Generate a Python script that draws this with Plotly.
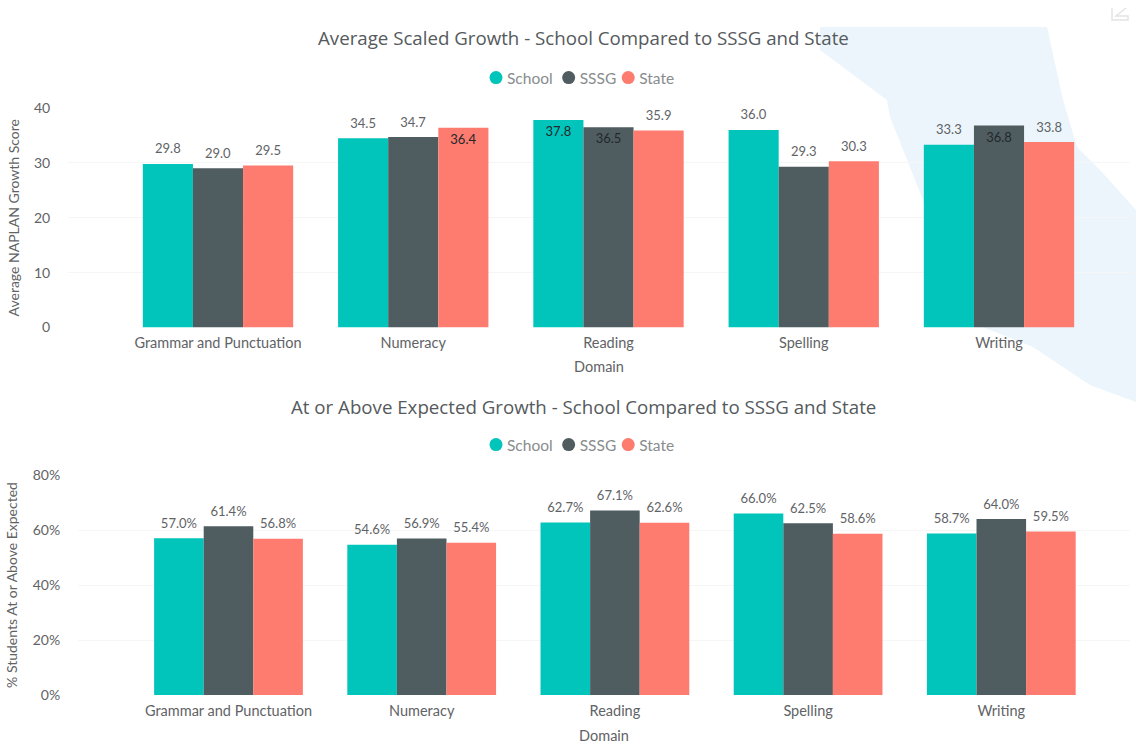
import plotly.graph_objects as go

W, H = 1136, 745
categories = ["Grammar and Punctuation", "Numeracy", "Reading", "Spelling", "Writing"]
series = ["School", "SSSG", "State"]
colors = ["#01C5BA", "#4F5D61", "#FD7B6F"]

score_school = [29.8, 34.5, 37.8, 36.0, 33.3]
score_sssg = [29.0, 34.7, 36.5, 29.3, 36.8]
score_state = [29.5, 36.4, 35.9, 30.3, 33.8]
pct_school = [57.0, 54.6, 62.7, 66.0, 58.7]
pct_sssg = [61.4, 56.9, 67.1, 62.5, 64.0]
pct_state = [56.8, 55.4, 62.6, 58.6, 59.5]

# labels drawn inside the bar end in the top chart: (series, category index)
score_inside = {("School", 2), ("SSSG", 2), ("SSSG", 4), ("State", 1)}

LABEL = "Lato"
TITLE = "Open Sans"
GREY = "#5f6366"
DARK = "#23282b"

def px(x):
    return x / W

def py(y):
    return 1 - y / H

def above(s):
    # small blank line under the label lifts it clear of the bar
    return f"<span style='font-size:13px'>{s}</span><br> "

def below(s):
    # small blank line over the label drops it further inside the bar
    return f" <br><span style='font-size:13px'>{s}</span>"

fig = go.Figure()
for name, color, vals in zip(series, colors, [score_school, score_sssg, score_state]):
    inside = [(name, i) in score_inside for i in range(len(vals))]
    fig.add_trace(go.Bar(
        x=categories, y=vals, name=name, marker=dict(color=color, line_width=0),
        xaxis="x", yaxis="y", showlegend=False, cliponaxis=False,
        text=[below(f"{v:.1f}") if s else above(f"{v:.1f}") for v, s in zip(vals, inside)],
        textposition=["inside" if s else "outside" for s in inside],
        insidetextanchor="end", textangle=0, constraintext="none",
        textfont=dict(family=LABEL, size=5, color=[DARK if s else GREY for s in inside]),
        hoverinfo="x+y",
    ))
for name, color, vals in zip(series, colors, [pct_school, pct_sssg, pct_state]):
    fig.add_trace(go.Bar(
        x=categories, y=vals, name=name, marker=dict(color=color, line_width=0),
        xaxis="x2", yaxis="y2", showlegend=False, cliponaxis=False,
        text=[above(f"{v:.1f}%") for v in vals],
        textposition="outside", textangle=0, constraintext="none",
        textfont=dict(family=LABEL, size=5, color=GREY),
        hoverinfo="x+y",
    ))
# legend keys are round in the reference, so each legend has marker-only entries
for legend, xa, ya in [("legend", "x", "y"), ("legend2", "x2", "y2")]:
    for name, color in zip(series, colors):
        fig.add_trace(go.Scatter(
            x=[None], y=[None], mode="markers", name=name, legend=legend,
            marker=dict(color=color, size=13, symbol="circle"), xaxis=xa, yaxis=ya,
        ))

def xaxis(center0, px_l, px_r, step, anchor, ticklen, standoff):
    return dict(
        domain=[px(px_l), px(px_r)], anchor=anchor, type="category",
        range=[(px_l - center0) / step, (px_r - center0) / step],
        categoryorder="array", categoryarray=categories,
        showgrid=False, zeroline=False, showline=False,
        ticks="outside", ticklen=ticklen, tickcolor="rgba(0,0,0,0)",
        tickfont=dict(family=LABEL, size=14.5, color=GREY),
        title=dict(text="Domain", font=dict(family=LABEL, size=14.5, color=GREY), standoff=standoff),
    )

def yaxis(top, bottom, rng, dtick, title, suffix, anchor, ticklen):
    return dict(
        domain=[py(bottom), py(top)], anchor=anchor, range=rng, dtick=dtick, ticksuffix=suffix,
        showgrid=True, gridcolor="#f6f6f6", gridwidth=1, zeroline=False, showline=False,
        ticks="outside", ticklen=ticklen, tickcolor="rgba(0,0,0,0)",
        tickfont=dict(family=LABEL, size=14, color=GREY),
        title=dict(text=title, font=dict(family=LABEL, size=14, color=GREY), standoff=11),
    )

legend_common = dict(
    orientation="h", xanchor="left", yanchor="middle", itemclick=False, itemdoubleclick=False,
    font=dict(family=LABEL, size=15.5, color="#888c8e"), bgcolor="rgba(0,0,0,0)",
    tracegroupgap=0, itemwidth=30,
)

blue_region = [(820, 27), (1047, 27), (1063, 100), (1077, 147), (1100, 170), (1136, 210),
               (1136, 402), (1090, 385), (1033, 347), (985, 328), (940, 280), (923, 200),
               (890, 117), (887, 100), (820, 50)]
path = "M " + " L ".join(f"{px(x):.4f},{py(y):.4f}" for x, y in blue_region) + " Z"
icon = [(1112, 8), (1112, 20), (1128, 20), (1128, 16), (1116, 16), (1126, 8)]
icon_path = "M " + " L ".join(f"{px(x):.4f},{py(y):.4f}" for x, y in icon)

fig.update_layout(
    width=W, height=H, autosize=False,
    margin=dict(l=0, r=0, t=0, b=0, autoexpand=False),
    paper_bgcolor="white", plot_bgcolor="rgba(0,0,0,0)",
    barmode="group", bargap=0.23, bargroupgap=0,
    xaxis=xaxis(218, 68, 1130, 195.25, "y", 2, 11),
    yaxis=yaxis(108, 327.5, [0, 40], 10, "Average NAPLAN Growth Score", "", "x", 14),
    xaxis2=xaxis(228.5, 78, 1130, 193.2, "y2", 3, 12),
    yaxis2=yaxis(475, 695, [0, 80], 20, "% Students At or Above Expected", "%", "x2", 14),
    legend=dict(x=px(484), y=py(78), **legend_common),
    legend2=dict(x=px(484), y=py(445), **legend_common),
    shapes=[
        dict(type="path", path=path, xref="paper", yref="paper",
             fillcolor="#EBF5FB", line_width=0, layer="below"),
        dict(type="path", path=icon_path, xref="paper", yref="paper",
             line=dict(color="#e4e4e4", width=1.5), layer="below"),
    ],
    annotations=[
        dict(text="Average Scaled Growth - School Compared to SSSG and State", x=px(583), y=py(38),
             xref="paper", yref="paper", showarrow=False, xanchor="center", yanchor="middle",
             font=dict(family=TITLE, size=18.7, color="#555a5d")),
        dict(text="At or Above Expected Growth - School Compared to SSSG and State", x=px(583), y=py(406),
             xref="paper", yref="paper", showarrow=False, xanchor="center", yanchor="middle",
             font=dict(family=TITLE, size=18.7, color="#555a5d")),
    ],
)

# The reference packs its legend tighter than Plotly's fixed key-to-text gap allows.
# Plotly names the text class after the legend id: legendtext, legend2text.
tighten_legend = """
document.body.style.margin='0';
var legendStyle = document.createElement('style');
legendStyle.textContent = '.legendtext, .legend2text { transform: translateX(-9px); }';
document.head.appendChild(legendStyle);
document.querySelectorAll('.infolayer > g[class^="legend"]').forEach(function (lg) {
  var shifts = [-8, -26, -48];
  lg.querySelectorAll('.traces').forEach(function (t, i) {
    var m = /translate\\(([-\\d.]+),\\s*([-\\d.]+)\\)/.exec(t.getAttribute('transform'));
    if (m) t.setAttribute('transform', 'translate(' + (parseFloat(m[1]) + shifts[i]) + ',' + m[2] + ')');
  });
});
"""
fig.write_html("out.html", post_script=tighten_legend, config={"displayModeBar": False})
